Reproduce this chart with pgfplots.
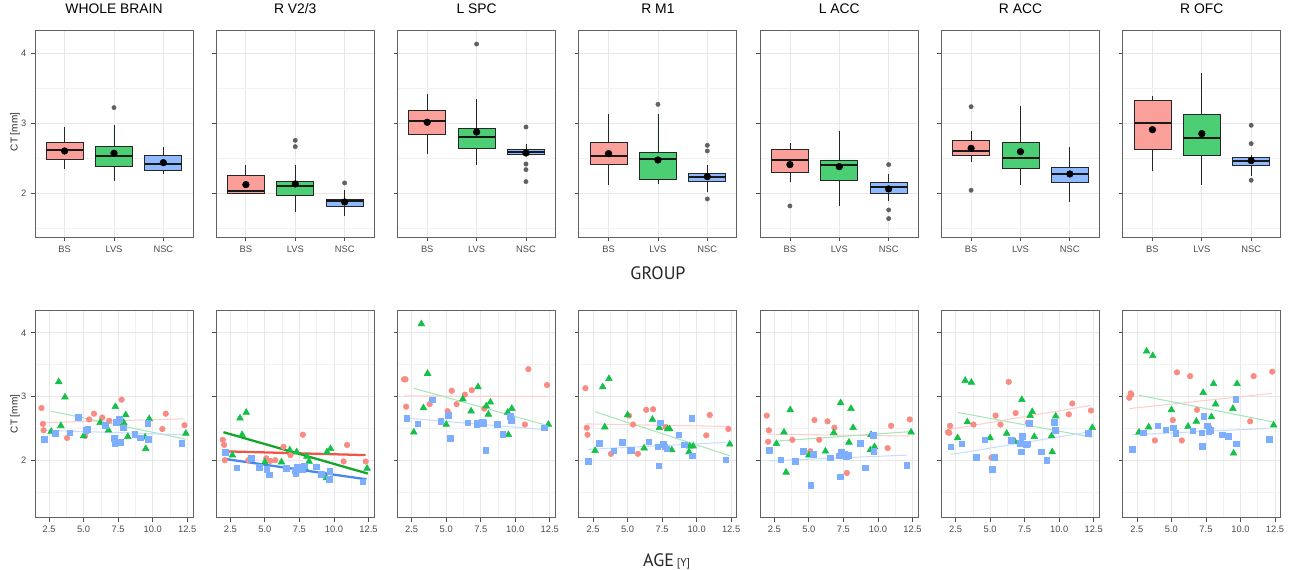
\documentclass[border=0pt]{standalone}
\usepackage{fontspec}
\setmainfont{Liberation Sans}
\newfontfamily\labfont{PT Sans}
\usepackage{pgfplots}
\pgfplotsset{compat=1.18}
\usepackage{pgfplotstable}
\usepgfplotslibrary{statistics}

\definecolor{bsc}{RGB}{248,118,109}
\definecolor{lvsc}{RGB}{0,186,56}
\definecolor{nscc}{RGB}{97,156,255}
\definecolor{bsdark}{RGB}{240,85,70}
\definecolor{lvsdark}{RGB}{20,165,40}
\definecolor{nscdark}{RGB}{70,135,240}

% per-subject cortical thickness, one column per region
\pgfplotstableread{
age wb v23 spc m1 lacc racc rofc
1.95 2.82 2.32 3.27 3.13 2.70 2.44 2.98
2.05 2.57 2.24 3.27 2.51 2.29 2.43 3.05
2.10 2.47 2.00 2.84 2.40 2.47 2.54 3.03
3.80 2.35 2.00 2.88 2.10 2.32 2.56 2.31
5.10 2.38 2.03 2.77 2.70 2.14 2.04 2.63
5.40 2.64 1.99 3.09 2.56 2.63 2.70 3.38
5.75 2.73 2.00 2.88 2.10 2.32 2.56 2.31
6.35 2.67 2.21 3.03 2.79 2.61 3.23 3.32
6.85 2.62 2.08 3.10 2.80 2.51 2.74 2.79
7.75 2.95 2.40 2.81 2.52 1.80 2.59 2.51
10.70 2.49 1.98 2.56 2.39 2.19 2.72 2.61
10.95 2.73 2.24 3.43 2.71 2.54 2.89 3.32
12.30 2.55 1.98 3.18 2.49 2.64 2.78 3.39
}\bs
\pgfplotstableread{
age wb v23 spc m1 lacc racc rofc
2.65 2.45 2.08 2.44 2.15 2.26 2.35 2.44
3.20 3.23 2.66 4.14 3.15 2.44 3.25 3.71
3.35 2.54 2.40 2.82 2.52 1.81 2.60 2.52
3.65 2.99 2.75 3.36 3.28 2.79 3.22 3.64
5.00 2.38 1.97 2.56 2.71 2.08 2.35 2.79
6.20 2.59 1.97 2.96 2.19 2.14 2.42 2.53
6.80 2.47 2.16 2.77 2.64 2.43 2.29 2.61
7.30 2.84 2.13 3.15 2.51 2.90 2.95 3.06
7.90 2.59 1.88 2.85 2.49 2.28 2.70 2.68
8.05 2.71 2.06 2.72 2.49 2.81 2.76 3.20
8.20 2.37 1.98 2.91 2.16 2.51 2.37 2.88
9.45 2.36 1.72 2.75 2.13 2.16 2.38 2.81
9.50 2.18 2.13 2.40 2.22 2.40 2.13 2.11
9.75 2.65 2.18 2.81 2.22 2.21 2.69 3.20
12.40 2.42 1.87 2.56 2.25 2.44 2.51 2.55
}\lvs
\pgfplotstableread{
age wb v23 spc m1 lacc racc rofc
2.15 2.33 2.12 2.66 1.98 2.16 2.21 2.17
2.95 2.42 1.88 2.57 2.27 2.01 2.26 2.43
4.00 2.43 2.03 2.95 2.15 1.98 2.05 2.54
4.60 2.67 1.89 2.61 2.28 2.14 2.32 2.48
5.15 2.47 1.86 2.71 2.16 1.61 1.86 2.51
5.30 2.49 1.77 2.34 2.16 2.09 2.05 2.42
6.55 2.55 1.87 2.59 2.29 2.04 2.31 2.46
7.20 2.34 1.84 2.56 2.21 2.07 2.27 2.43
7.25 2.27 1.79 2.58 1.91 1.74 2.13 2.22
7.35 2.60 1.89 2.59 2.59 2.13 2.38 2.69
7.60 2.64 1.90 2.60 2.25 2.10 2.25 2.54
7.70 2.28 1.86 2.58 2.21 2.06 2.26 2.45
7.85 2.51 1.91 2.16 2.18 2.08 2.58 2.47
8.70 2.41 1.90 2.56 2.40 2.27 2.13 2.40
9.10 2.35 1.78 2.41 2.24 1.88 2.00 2.38
9.65 2.58 1.70 2.69 2.66 2.39 2.60 2.96
9.70 2.33 1.83 2.63 2.07 2.14 2.47 2.26
12.10 2.27 1.66 2.51 2.01 1.92 2.42 2.33
}\nsc

\pgfplotsset{
  panel/.style={
    scale only axis, width=118.5pt, height=155.25pt, anchor=north west,
    axis line style={draw=black!62, line width=0.7pt},
    tick align=outside, tick pos=left, major tick length=3pt, minor tick length=0pt,
    major tick style={black!70, line width=0.6pt},
    tick label style={font=\fontsize{7}{8}\selectfont, text=black!70},
    grid=both,
    major grid style={black!9, line width=0.6pt},
    minor grid style={black!5, line width=0.4pt},
    ytick={2,3,4}, minor ytick={1.5,2.5,3.5}, yticklabels={},
    title style={font=\fontsize{10.4}{12}\selectfont, at={(0.5,1)}, anchor=base, yshift=6.2pt},
  },
  toprow/.style={panel, xmin=0.4, xmax=3.6, ymin=1.37, ymax=4.33,
    xtick={1,2,3}, xticklabels={BS,LVS,NSC},
    boxplot/draw direction=y,
    boxplot/every median/.style={line width=1.4pt, draw=black!90}},
  botrow/.style={panel, xmin=1.48, xmax=12.92, ymin=1.1, ymax=4.35,
    xtick={2.5,5,7.5,10,12.5}, xticklabels={2.5,5.0,7.5,10.0,12.5},
    minor xtick={3.75,6.25,8.75,11.25}},
  bsmark/.style={only marks, mark=*, mark size=2.1pt, color=bsc!85!white},
  lvsmark/.style={only marks, mark=triangle*, mark size=2.9pt, color=lvsc!92!white},
  nscmark/.style={only marks, mark=square*, mark size=2.1pt, color=nscc!82!white},
}

% one box: position, fill, lower whisker, Q1, median, Q3, upper whisker
\newcommand{\gbox}[7]{\addplot[boxplot prepared={draw position=#1, box extend=0.75,
  lower whisker=#3, lower quartile=#4, median=#5, upper quartile=#6, upper whisker=#7,
  whisker extend=0}, draw=black!85, fill=#2!70!white, line width=0.6pt] coordinates {};}
\newcommand{\outl}[1]{\addplot[only marks, mark=*, mark size=1.6pt, black!62] coordinates {#1};}
\newcommand{\means}[3]{\addplot[only marks, mark=*, mark size=2.5pt, black] coordinates {(1,#1)(2,#2)(3,#3)};}
\newcommand{\scat}[1]{%
  \addplot[bsmark] table[x=age, y=#1]{\bs};
  \addplot[lvsmark] table[x=age, y=#1]{\lvs};
  \addplot[nscmark] table[x=age, y=#1]{\nsc};}
\newcommand{\fits}[6]{%
  \addplot[bsc!35!white, line width=0.8pt] coordinates {(1.95,#1)(12.3,#2)};
  \addplot[lvsc!35!white, line width=0.8pt] coordinates {(2.65,#3)(12.4,#4)};
  \addplot[nscc!35!white, line width=0.8pt] coordinates {(2.15,#5)(12.1,#6)};}

\begin{document}
\begin{tikzpicture}
\path[use as bounding box] (0,0) rectangle (969pt,427.5pt);

% ---------- top row: boxplots by group ----------
\begin{axis}[toprow, at={(26.25pt,405pt)}, title={WHOLE BRAIN}, yticklabels={2,3,4}]
\gbox{1}{bsc}{2.34}{2.476}{2.61}{2.724}{2.94}
\gbox{2}{lvsc}{2.167}{2.381}{2.524}{2.667}{2.976}
\gbox{3}{nscc}{2.267}{2.324}{2.414}{2.533}{2.657}
\outl{(2,3.22)}
\means{2.60}{2.567}{2.433}
\end{axis}

\begin{axis}[toprow, at={(162.2pt,405pt)}, title={R V2/3}]
\gbox{1}{bsc}{1.99}{2.0}{2.033}{2.248}{2.405}
\gbox{2}{lvsc}{1.724}{1.971}{2.095}{2.171}{2.405}
\gbox{3}{nscc}{1.676}{1.805}{1.881}{1.914}{2.038}
\outl{(2,2.752)(2,2.662)(3,2.143)}
\means{2.119}{2.129}{1.871}
\end{axis}

\begin{axis}[toprow, at={(298.2pt,405pt)}, title={L SPC}]
\gbox{1}{bsc}{2.562}{2.833}{3.029}{3.176}{3.414}
\gbox{2}{lvsc}{2.395}{2.638}{2.80}{2.924}{3.343}
\gbox{3}{nscc}{2.533}{2.557}{2.59}{2.629}{2.705}
\outl{(2,4.129)(3,2.943)(3,2.414)(3,2.333)(3,2.162)}
\means{3.01}{2.871}{2.571}
\end{axis}

\begin{axis}[toprow, at={(434.2pt,405pt)}, title={R M1}]
\gbox{1}{bsc}{2.11}{2.41}{2.524}{2.724}{3.133}
\gbox{2}{lvsc}{2.133}{2.2}{2.486}{2.581}{3.133}
\gbox{3}{nscc}{2.01}{2.162}{2.224}{2.286}{2.405}
\outl{(2,3.267)(3,2.681)(3,2.6)(3,1.914)}
\means{2.562}{2.471}{2.233}
\end{axis}

\begin{axis}[toprow, at={(570.2pt,405pt)}, title={L ACC}]
\gbox{1}{bsc}{2.152}{2.30}{2.476}{2.629}{2.714}
\gbox{2}{lvsc}{1.819}{2.186}{2.40}{2.471}{2.89}
\gbox{3}{nscc}{1.89}{2.0}{2.086}{2.148}{2.276}
\outl{(1,1.814)(3,2.405)(3,1.757)(3,1.633)}
\means{2.405}{2.376}{2.057}
\end{axis}

\begin{axis}[toprow, at={(706.1pt,405pt)}, title={R ACC}]
\gbox{1}{bsc}{2.443}{2.543}{2.60}{2.752}{2.886}
\gbox{2}{lvsc}{2.119}{2.352}{2.50}{2.719}{3.243}
\gbox{3}{nscc}{1.871}{2.148}{2.276}{2.367}{2.657}
\outl{(1,3.233)(1,2.038)}
\means{2.638}{2.59}{2.271}
\end{axis}

\begin{axis}[toprow, at={(842.1pt,405pt)}, title={R OFC}]
\gbox{1}{bsc}{2.319}{2.619}{2.995}{3.329}{3.39}
\gbox{2}{lvsc}{2.119}{2.533}{2.79}{3.129}{3.714}
\gbox{3}{nscc}{2.238}{2.395}{2.462}{2.514}{2.543}
\outl{(3,2.967)(3,2.705)(3,2.181)}
\means{2.905}{2.848}{2.462}
\end{axis}

% ---------- bottom row: thickness against age ----------
\begin{axis}[botrow, at={(26.25pt,194.6pt)}, yticklabels={2,3,4}]
\scat{wb}
\fits{2.59}{2.65}{2.77}{2.33}{2.47}{2.40}
\end{axis}

\begin{axis}[botrow, at={(162.2pt,194.6pt)}]
\scat{v23}
\addplot[bsdark, line width=1.7pt] coordinates {(2.0,2.14)(12.3,2.08)};
\addplot[lvsdark, line width=1.7pt] coordinates {(2.0,2.44)(12.45,1.79)};
\addplot[nscdark, line width=1.7pt] coordinates {(2.1,2.02)(12.35,1.70)};
\end{axis}

\begin{axis}[botrow, at={(298.2pt,194.6pt)}]
\scat{spc}
\fits{3.01}{3.00}{3.13}{2.54}{2.66}{2.48}
\end{axis}

\begin{axis}[botrow, at={(434.2pt,194.6pt)}]
\scat{m1}
\fits{2.57}{2.53}{2.76}{2.07}{2.17}{2.28}
\end{axis}

\begin{axis}[botrow, at={(570.2pt,194.6pt)}]
\scat{lacc}
\fits{2.41}{2.38}{2.30}{2.45}{1.99}{2.08}
\end{axis}

\begin{axis}[botrow, at={(706.1pt,194.6pt)}]
\scat{racc}
\fits{2.48}{2.86}{2.75}{2.36}{2.09}{2.44}
\end{axis}

\begin{axis}[botrow, at={(842.1pt,194.6pt)}]
\scat{rofc}
\fits{2.81}{3.05}{3.02}{2.60}{2.40}{2.50}
\end{axis}

% ---------- shared labels ----------
\node[rotate=90, font=\fontsize{7.5}{9}\selectfont, text=black!85] at (11.25pt,328.5pt) {CT [mm]};
\node[rotate=90, font=\fontsize{7.5}{9}\selectfont, text=black!85] at (11.25pt,117pt) {CT [mm]};
\node[font=\labfont\fontsize{13.5}{15}\selectfont, text=black!85] at (493.5pt,222.75pt) {GROUP};
\node[anchor=base, font=\labfont\fontsize{13.5}{15}\selectfont, text=black!85] at (500pt,2.5pt)
  {AGE\,{\fontsize{8.5}{10}\selectfont[Y]}};
\end{tikzpicture}
\end{document}
